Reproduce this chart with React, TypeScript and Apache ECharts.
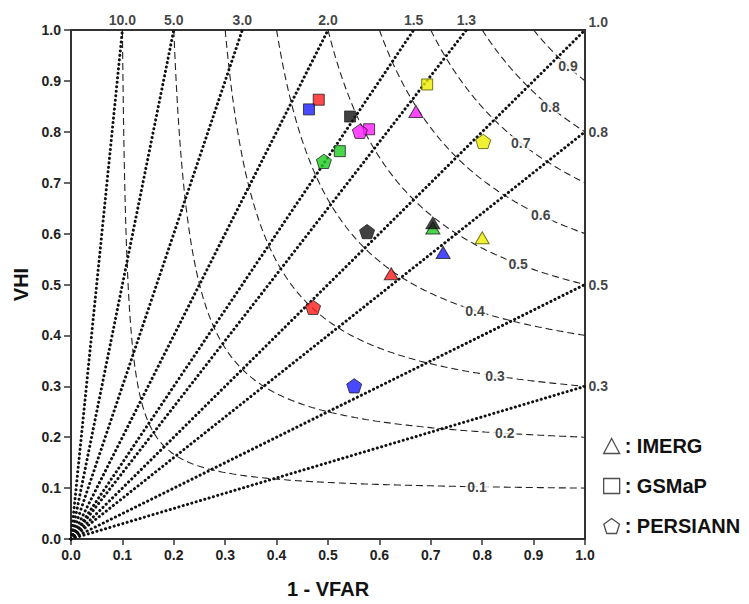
import React, { useEffect, useRef } from "react";
import * as echarts from "echarts";

// Frequency-bias reference lines (dotted) and their labels
const biasValues = [10, 5, 3, 2, 1.5, 1.3, 1.0, 0.8, 0.5, 0.3];
const biasLabels = ["10.0", "5.0", "3.0", "2.0", "1.5", "1.3", "1.0", "0.8", "0.5", "0.3"];

// CSI reference curves (dashed) and where their labels sit along x
const csiValues = [0.1, 0.2, 0.3, 0.4, 0.5, 0.6, 0.7, 0.8, 0.9];
const csiLabels = ["0.1", "0.2", "0.3", "0.4", "0.5", "0.6", "0.7", "0.8", "0.9"];
const csiLabelX = [0.79, 0.844, 0.825, 0.786, 0.87, 0.914, 0.875, 0.932, 0.967];

// Colours of the cases
const caseColors: Record<string, string> = {
  red: "#ff1a1a",
  blue: "#1c1cff",
  black: "#111111",
  magenta: "#ff1aff",
  green: "#1ecb1e",
  yellow: "#eeee00",
};

// IMERG (triangles)
const imergCases = ["red", "blue", "green", "black", "magenta", "yellow"];
const imergX = [0.623, 0.724, 0.704, 0.704, 0.671, 0.8];
const imergY = [0.521, 0.563, 0.611, 0.621, 0.84, 0.592];

// GSMaP (squares)
const gsmapCases = ["red", "blue", "black", "magenta", "green", "yellow"];
const gsmapX = [0.482, 0.463, 0.543, 0.58, 0.523, 0.693];
const gsmapY = [0.863, 0.844, 0.83, 0.805, 0.762, 0.893];

// PERSIANN (pentagons)
const persiannCases = ["red", "blue", "black", "magenta", "green", "yellow"];
const persiannX = [0.471, 0.551, 0.576, 0.562, 0.492, 0.802];
const persiannY = [0.455, 0.301, 0.604, 0.801, 0.742, 0.781];

const pentagon =
  "path://M0,-1 L0.951,-0.309 L0.588,0.809 L-0.588,0.809 L-0.951,-0.309 Z";

const FONT = "'Liberation Sans', Arial, sans-serif";

function csiPod(c: number, sr: number) {
  return 1 / (1 / c + 1 - 1 / sr);
}

export default function App() {
  const ref = useRef<HTMLDivElement>(null);
  useEffect(() => {
    document.body.style.margin = "0";
    const chart = echarts.init(ref.current!, null, { renderer: "svg" });

    const biasSeries = biasValues.map((b) => ({
      type: "line",
      data: b >= 1 ? [[0, 0], [1 / b, 1]] : [[0, 0], [1, b]],
      showSymbol: false,
      silent: true,
      z: 3,
      lineStyle: { color: "#111", width: 3, type: [0.1, 4.4], cap: "round" },
    }));

    const csiSeries = csiValues.map((c) => {
      const pts: number[][] = [];
      const n = 300;
      for (let i = 0; i <= n; i++) {
        const t = i / n;
        const sr = c + (1 - c) * t * t;
        pts.push([sr, Math.min(1, csiPod(c, sr))]);
      }
      return {
        type: "line",
        data: pts,
        showSymbol: false,
        silent: true,
        z: 2,
        lineStyle: { color: "#222", width: 1.1, type: [7, 4] },
      };
    });

    const csiLabelSeries = {
      type: "scatter",
      silent: true,
      z: 4,
      symbolSize: 1,
      itemStyle: { color: "rgba(0,0,0,0)" },
      data: csiValues.map((c, i) => [csiLabelX[i], csiPod(c, csiLabelX[i]), csiLabels[i]]),
      label: {
        show: true,
        position: "inside",
        formatter: (p: any) => p.value[2],
        fontFamily: FONT,
        fontWeight: "bold",
        fontSize: 14,
        color: "#111",
        backgroundColor: "#fff",
        padding: [0, 2],
      },
    };

    const biasLabelSeries = {
      type: "scatter",
      silent: true,
      z: 4,
      symbolSize: 1,
      itemStyle: { color: "rgba(0,0,0,0)" },
      data: biasValues.map((b, i) => {
        const top = b > 1;
        const corner = b === 1;
        return {
          value: b >= 1 ? [1 / b, 1, biasLabels[i]] : [1, b, biasLabels[i]],
          label: top
            ? { position: "top", distance: 3 }
            : corner
            ? { position: "right", distance: 3, offset: [0, -8] }
            : { position: "right", distance: 3 },
        };
      }),
      label: {
        show: true,
        formatter: (p: any) => p.value[2],
        fontFamily: FONT,
        fontWeight: "bold",
        fontSize: 14,
        color: "#111",
      },
    };

    const mk = (name: string, symbol: string, size: any, cases: string[], xs: number[], ys: number[], z: number) => ({
      name,
      type: "scatter",
      symbol,
      symbolSize: size,
      symbolKeepAspect: true,
      z,
      data: xs.map((x, i) => ({
        value: [x, ys[i]],
        itemStyle: {
          color: caseColors[cases[i]],
          borderColor: cases[i] === "yellow" ? "#555500" : "#222",
          borderWidth: 1,
        },
      })),
    });

    const hollow = { color: "#fff", borderColor: "#222", borderWidth: 1.3 };

    chart.setOption({
      animation: false,
      backgroundColor: "#fff",
      grid: { left: 71, right: 164, top: 30, bottom: 62, show: true, borderColor: "#333", borderWidth: 2 },
      xAxis: {
        type: "value",
        min: 0,
        max: 1,
        interval: 0.1,
        name: "1 - VFAR",
        nameLocation: "middle",
        nameGap: 40,
        nameTextStyle: { fontFamily: FONT, fontWeight: "bold", fontSize: 20, color: "#111" },
        axisLine: { lineStyle: { color: "#333", width: 2 } },
        axisTick: { show: true, inside: false, length: 6, lineStyle: { color: "#333", width: 1.5 } },
        axisLabel: {
          formatter: (v: number) => v.toFixed(1),
          fontFamily: FONT,
          fontWeight: "bold",
          fontSize: 14,
          color: "#222",
          margin: 9,
        },
        splitLine: { show: false },
      },
      yAxis: {
        type: "value",
        min: 0,
        max: 1,
        interval: 0.1,
        name: "VHI",
        nameLocation: "middle",
        nameGap: 38,
        nameRotate: 90,
        nameTextStyle: { fontFamily: FONT, fontWeight: "bold", fontSize: 20, color: "#111" },
        axisLine: { lineStyle: { color: "#333", width: 2 } },
        axisTick: { show: true, inside: false, length: 7, lineStyle: { color: "#333", width: 1.5 } },
        axisLabel: {
          formatter: (v: number) => v.toFixed(1),
          fontFamily: FONT,
          fontWeight: "bold",
          fontSize: 14,
          color: "#222",
          margin: 10,
        },
        splitLine: { show: false },
      },
      legend: {
        orient: "vertical",
        left: 598,
        top: 431,
        itemWidth: 16,
        itemHeight: 15,
        itemGap: 20,
        selectedMode: false,
        formatter: (n: string) => ": " + n,
        textStyle: { fontFamily: FONT, fontWeight: "bold", fontSize: 20, color: "#111" },
        itemStyle: hollow,
        data: [
          { name: "IMERG", icon: "triangle", itemStyle: hollow },
          { name: "GSMaP", icon: "rect", itemStyle: hollow },
          { name: "PERSIANN", icon: pentagon, itemStyle: hollow },
        ],
      },
      series: [
        ...csiSeries,
        ...biasSeries,
        csiLabelSeries,
        biasLabelSeries,
        mk("GSMaP", "rect", 11, gsmapCases, gsmapX, gsmapY, 5),
        mk("PERSIANN", pentagon, 15, persiannCases, persiannX, persiannY, 6),
        mk("IMERG", "triangle", [14, 12], imergCases, imergX, imergY, 7),
      ],
    });
    return () => chart.dispose();
  }, []);
  return (
    <div
      ref={ref}
      style={{ position: "fixed", left: 0, top: 0, width: 749, height: 604 }}
    />
  );
}
